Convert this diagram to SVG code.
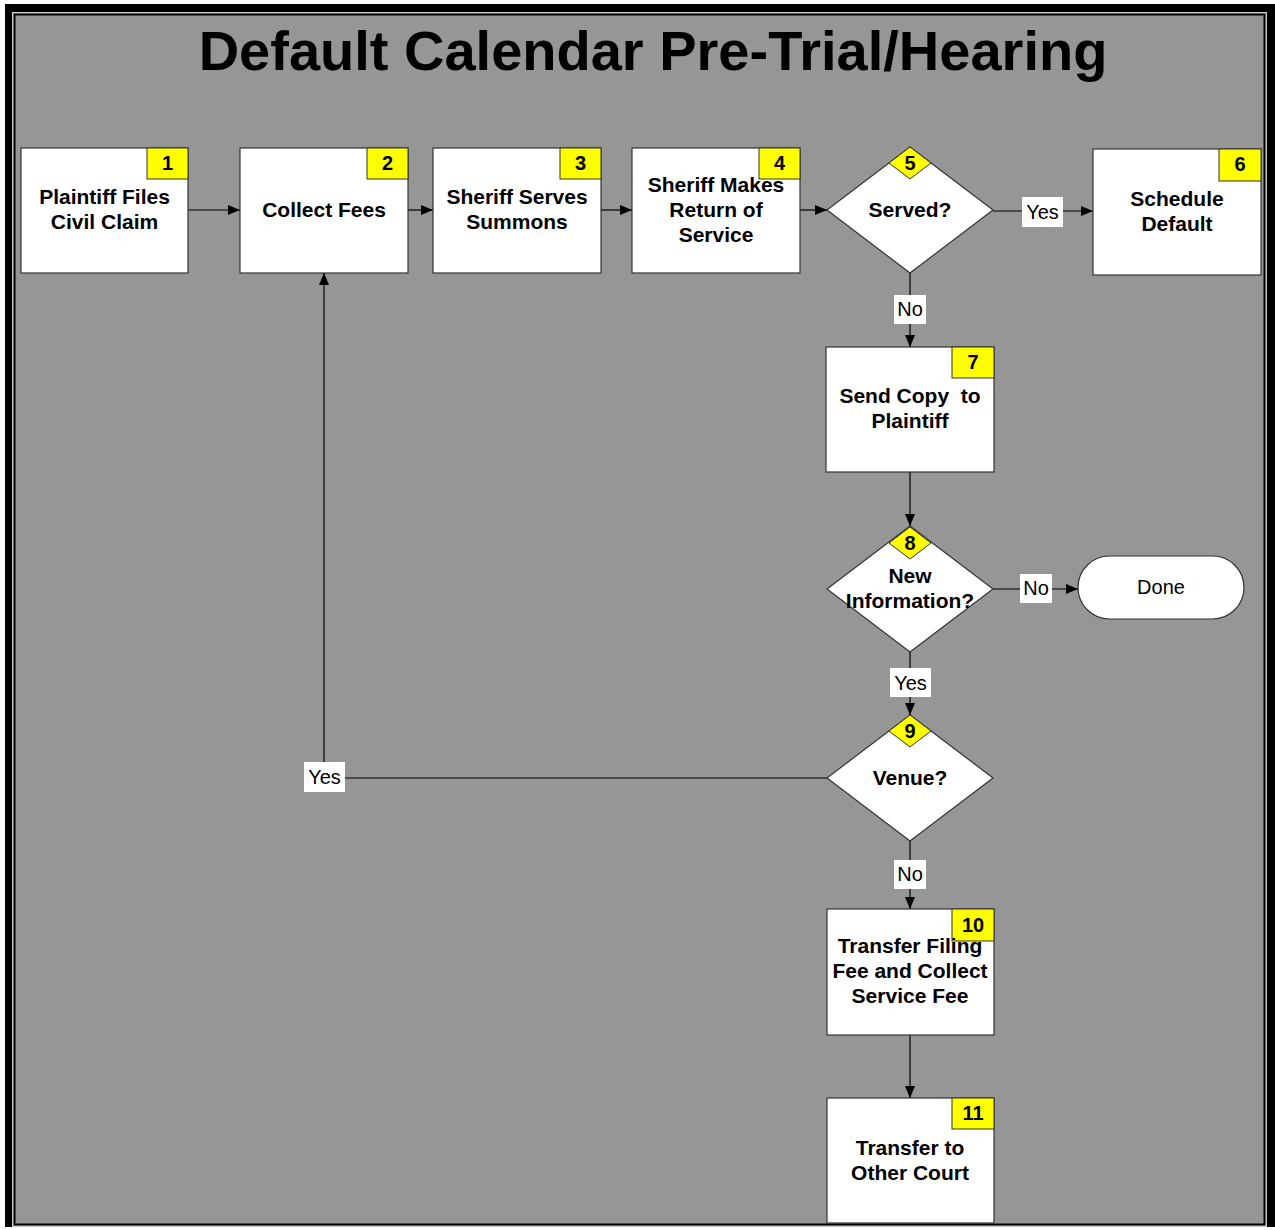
<svg xmlns="http://www.w3.org/2000/svg" width="1275" height="1230" viewBox="0 0 1275 1230">
<style>
  .box{fill:#fff;stroke:#333;stroke-width:1.2}
  .badge{fill:#ffff00;stroke:#333;stroke-width:1}
  .t{font-family:"Liberation Sans",Arial,sans-serif;font-weight:bold;font-size:21px;fill:#000;text-anchor:middle}
  .n{font-family:"Liberation Sans",Arial,sans-serif;font-weight:bold;font-size:20px;fill:#000;text-anchor:middle}
  .lbl{font-family:"Liberation Sans",Arial,sans-serif;font-size:20px;fill:#000;text-anchor:middle}
  .lb{fill:#fff}
  .c{fill:none;stroke:#000;stroke-width:1.2}
</style>
<defs>
  <marker id="arr" viewBox="0 0 12 10" refX="12" refY="5" markerWidth="12" markerHeight="10" markerUnits="userSpaceOnUse" orient="auto">
    <path d="M0,0 L12,5 L0,10 Z" fill="#000"/>
  </marker>
</defs>
<rect x="0" y="0" width="1275" height="1230" fill="#fff"/>
<rect x="5" y="4" width="1270" height="1223" fill="#000"/>
<rect x="12" y="12" width="1255" height="1215" fill="#c8c8c8"/>
<rect x="14.5" y="14.5" width="1250" height="1210" fill="#969696" stroke="#000" stroke-width="2"/>
<text x="653" y="70" font-family="Liberation Sans,Arial,sans-serif" font-weight="bold" font-size="56" text-anchor="middle" fill="#000">Default Calendar Pre-Trial/Hearing</text>

<g id="connectors">
  <line class="c" x1="188" y1="210" x2="240" y2="210" marker-end="url(#arr)"/>
  <line class="c" x1="408" y1="210" x2="433" y2="210" marker-end="url(#arr)"/>
  <line class="c" x1="601" y1="210" x2="632" y2="210" marker-end="url(#arr)"/>
  <line class="c" x1="800" y1="210" x2="827" y2="210" marker-end="url(#arr)"/>
  <line class="c" x1="993" y1="211" x2="1093" y2="211" marker-end="url(#arr)"/>
  <line class="c" x1="910" y1="273" x2="910" y2="347" marker-end="url(#arr)"/>
  <line class="c" x1="910" y1="472" x2="910" y2="526" marker-end="url(#arr)"/>
  <line class="c" x1="993" y1="589" x2="1078" y2="589" marker-end="url(#arr)"/>
  <line class="c" x1="910" y1="652" x2="910" y2="715" marker-end="url(#arr)"/>
  <polyline class="c" points="827,778 324,778 324,273" marker-end="url(#arr)"/>
  <line class="c" x1="910" y1="841" x2="910" y2="909" marker-end="url(#arr)"/>
  <line class="c" x1="910" y1="1035" x2="910" y2="1098" marker-end="url(#arr)"/>
  <rect class="lb" x="1022" y="197" width="41" height="30"/>
  <text class="lbl" x="1042.5" y="219">Yes</text>
  <rect class="lb" x="894" y="295" width="32" height="29"/>
  <text class="lbl" x="910" y="316">No</text>
  <rect class="lb" x="1020" y="574" width="32" height="29"/>
  <text class="lbl" x="1036" y="595">No</text>
  <rect class="lb" x="890" y="668" width="41" height="29"/>
  <text class="lbl" x="910.5" y="690">Yes</text>
  <rect class="lb" x="304" y="762" width="41" height="30"/>
  <text class="lbl" x="324.5" y="784">Yes</text>
  <rect class="lb" x="894" y="860" width="32" height="29"/>
  <text class="lbl" x="910" y="881">No</text>
</g>

<g id="n1">
  <rect class="box" x="21" y="148" width="167" height="125"/>
  <rect class="badge" x="147" y="148" width="41" height="31"/>
  <text class="n" x="167.5" y="170">1</text>
  <text class="t" x="104.5" y="204">Plaintiff Files</text>
  <text class="t" x="104.5" y="229">Civil Claim</text>
</g>
<g id="n2">
  <rect class="box" x="240" y="148" width="168" height="125"/>
  <rect class="badge" x="367" y="148" width="41" height="31"/>
  <text class="n" x="387.5" y="170">2</text>
  <text class="t" x="324" y="217">Collect Fees</text>
</g>
<g id="n3">
  <rect class="box" x="433" y="148" width="168" height="125"/>
  <rect class="badge" x="560" y="148" width="41" height="31"/>
  <text class="n" x="580.5" y="170">3</text>
  <text class="t" x="517" y="204">Sheriff Serves</text>
  <text class="t" x="517" y="229">Summons</text>
</g>
<g id="n4">
  <rect class="box" x="632" y="148" width="168" height="125"/>
  <rect class="badge" x="759" y="148" width="41" height="31"/>
  <text class="n" x="779.5" y="170">4</text>
  <text class="t" x="716" y="192">Sheriff Makes</text>
  <text class="t" x="716" y="217">Return of</text>
  <text class="t" x="716" y="242">Service</text>
</g>
<g id="n5">
  <polygon class="box" points="910,147 993,210 910,273 827,210"/>
  <polygon class="badge" points="910,147 931,163 910,179 889,163"/>
  <text class="n" x="910" y="170">5</text>
  <text class="t" x="910" y="217">Served?</text>
</g>
<g id="n6">
  <rect class="box" x="1093" y="149" width="168" height="126"/>
  <rect class="badge" x="1219" y="149" width="42" height="32"/>
  <text class="n" x="1240" y="171">6</text>
  <text class="t" x="1177" y="206">Schedule</text>
  <text class="t" x="1177" y="231">Default</text>
</g>
<g id="n7">
  <rect class="box" x="826" y="347" width="168" height="125"/>
  <rect class="badge" x="952" y="347" width="42" height="31"/>
  <text class="n" x="973" y="369">7</text>
  <text class="t" x="910" y="403" xml:space="preserve">Send Copy  to</text>
  <text class="t" x="910" y="428">Plaintiff</text>
</g>
<g id="n8">
  <polygon class="box" points="910,526 993,589 910,652 827,589"/>
  <polygon class="badge" points="910,527 931,543 910,559 889,543"/>
  <text class="n" x="910" y="550">8</text>
  <text class="t" x="910" y="583">New</text>
  <text class="t" x="910" y="608">Information?</text>
</g>
<g id="done">
  <rect class="box" x="1078" y="556" width="166" height="63" rx="31.5" ry="31.5"/>
  <text class="lbl" x="1161" y="594">Done</text>
</g>
<g id="n9">
  <polygon class="box" points="910,715 993,778 910,841 827,778"/>
  <polygon class="badge" points="910,715 931,731 910,747 889,731"/>
  <text class="n" x="910" y="738">9</text>
  <text class="t" x="910" y="785">Venue?</text>
</g>
<g id="n10">
  <rect class="box" x="827" y="909" width="167" height="126"/>
  <rect class="badge" x="952" y="909" width="42" height="32"/>
  <text class="n" x="973" y="932">10</text>
  <text class="t" x="910" y="953">Transfer Filing</text>
  <text class="t" x="910" y="978">Fee and Collect</text>
  <text class="t" x="910" y="1003">Service Fee</text>
</g>
<g id="n11">
  <rect class="box" x="827" y="1098" width="167" height="125"/>
  <rect class="badge" x="952" y="1098" width="42" height="31"/>
  <text class="n" x="973" y="1120">11</text>
  <text class="t" x="910" y="1155">Transfer to</text>
  <text class="t" x="910" y="1180">Other Court</text>
</g>
</svg>
